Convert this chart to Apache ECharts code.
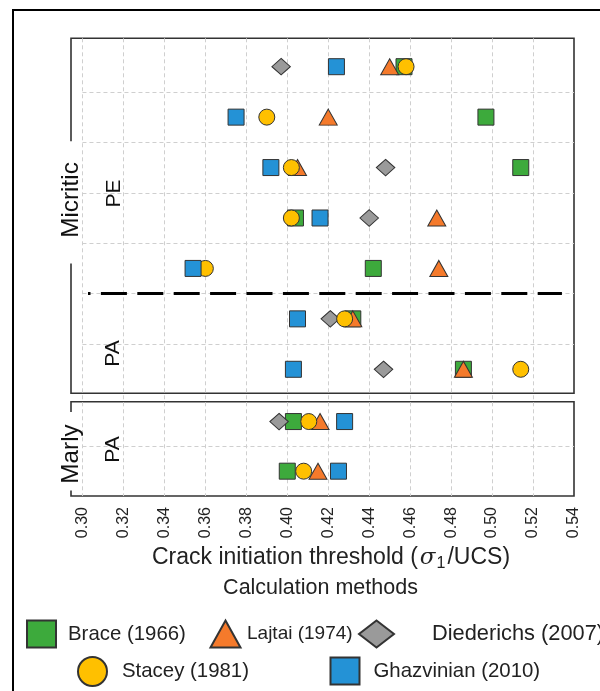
<!DOCTYPE html>
<html>
<head>
<meta charset="utf-8">
<script src="https://cdn.jsdelivr.net/npm/echarts@6/dist/echarts.min.js"></script>
<style>
html,body{margin:0;padding:0;background:#fff;}
#chart{width:600px;height:691px;}
</style>
</head>
<body>
<div id="chart"></div>
<script>
// ---- data ----
const methods = ['Brace (1966)', 'Lajtai (1974)', 'Diederichs (2007)', 'Stacey (1981)', 'Ghazvinian (2010)'];
const tickValues = ['0.30','0.32','0.34','0.36','0.38','0.40','0.42','0.44','0.46','0.48','0.50','0.52','0.54'];
// Micritic rows (top to bottom): rows 1-5 PE, rows 6-7 PA
const rowsMicritic = [1, 2, 3, 4, 5, 6, 7];
const braceMicritic      = [0.457, 0.497, 0.514, 0.404, 0.442, 0.432, 0.486];
const lajtaiMicritic     = [0.450, 0.420, 0.405, 0.473, 0.474, 0.432, 0.486];
const diederichsMicritic = [0.397, null,  0.448, 0.440, null,  0.421, 0.447];
const staceyMicritic     = [0.458, 0.390, 0.402, 0.402, 0.360, 0.428, 0.514];
const ghazvinianMicritic = [0.424, 0.375, 0.392, 0.416, 0.354, 0.405, 0.403];
// Marly rows (PA)
const rowsMarly = [1, 2];
const braceMarly      = [0.403, 0.400];
const lajtaiMarly     = [0.416, 0.415];
const diederichsMarly = [0.396, null];
const staceyMarly     = [0.4105, 0.408];
const ghazvinianMarly = [0.428, 0.425];

// ---- styles ----
const FONT = '"Liberation Sans", Arial, Helvetica, sans-serif';
const colors = ['#3daa3c', '#f57a2b', '#9a9a9a', '#ffc000', '#2492d6'];
const symbols = ['rect', 'triangle', 'diamond', 'circle', 'rect'];
const symSizes = [16, [18, 16], [18.5, 16.5], 16, 16];
const XMIN = 0.2944, XMAX = 0.54;

const microData = [braceMicritic, lajtaiMicritic, diederichsMicritic, staceyMicritic, ghazvinianMicritic];
const marlyData = [braceMarly, lajtaiMarly, diederichsMarly, staceyMarly, ghazvinianMarly];

function pairs(vals, rows) {
  const out = [];
  vals.forEach((v, i) => { if (v != null) out.push([v, rows[i]]); });
  return out;
}

const series = [];
methods.forEach((m, k) => {
  series.push({
    name: m, type: 'scatter', xAxisIndex: 1, yAxisIndex: 1,
    symbol: symbols[k], symbolSize: symSizes[k],
    itemStyle: { color: colors[k], borderColor: '#333', borderWidth: 1, opacity: 1 },
    emphasis: { disabled: true },
    data: pairs(microData[k], rowsMicritic), z: 3
  });
  series.push({
    name: m, type: 'scatter', xAxisIndex: 2, yAxisIndex: 2,
    symbol: symbols[k], symbolSize: symSizes[k],
    itemStyle: { color: colors[k], borderColor: '#333', borderWidth: 1, opacity: 1 },
    emphasis: { disabled: true },
    data: pairs(marlyData[k], rowsMarly), z: 3
  });
});

const gx0 = parseFloat(tickValues[0]), gx1 = parseFloat(tickValues[tickValues.length - 1]);
const gridStyle = { type: [4, 3], color: '#cfcfcf', width: 1 };
function rowLines(rows) {
  const d = [];
  for (let i = 0; i < rows.length - 1; i++) {
    const y = (rows[i] + rows[i + 1]) / 2;
    d.push([{ coord: [gx0, y] }, { coord: [gx1, y] }]);
  }
  return d;
}
// separator between PE (rows 1-5) and PA (rows 6-7)
const sepRow = 5.5;
series.push({
  name: '_g1', type: 'scatter', xAxisIndex: 1, yAxisIndex: 1, data: [], z: 1,
  markLine: { silent: true, symbol: 'none', z: 1, label: { show: false }, lineStyle: gridStyle,
    data: rowLines(rowsMicritic).concat([[
      { coord: [0.3027, sepRow], lineStyle: { type: [26, 10.4], dashOffset: 23.5, color: '#000', width: 3.2, cap: 'butt' } },
      { coord: [0.5341, sepRow] }
    ]]) }
});
series.push({
  name: '_g2', type: 'scatter', xAxisIndex: 2, yAxisIndex: 2, data: [], z: 1,
  markLine: { silent: true, symbol: 'none', z: 1, label: { show: false }, lineStyle: gridStyle,
    data: rowLines(rowsMarly) }
});

function legendItem(name, left, top, w, h, gap, fs) {
  return {
    data: [name], left: left, top: top, padding: 0, itemWidth: w, itemHeight: h,
    selectedMode: false,
    textStyle: { fontFamily: FONT, fontSize: fs, color: '#222', padding: [0, 0, 0, gap - 5] }
  };
}

const option = {
  animation: false,
  backgroundColor: '#fff',
  grid: [
    { left: 71, right: 26, top: 38.3, bottom: 195, show: false },
    { left: 71, right: 26, top: 38.3, bottom: 297.7, show: true, borderColor: '#333', borderWidth: 1.6, backgroundColor: 'transparent' },
    { left: 71, right: 26, top: 401.7, bottom: 195, show: true, borderColor: '#333', borderWidth: 1.6, backgroundColor: 'transparent' }
  ],
  xAxis: [
    { gridIndex: 0, type: 'value', min: XMIN, max: XMAX, splitNumber: 12, minInterval: 0.02, maxInterval: 0.02,
      axisLine: { show: false }, axisTick: { show: false },
      splitLine: { show: true, showMinLine: false, showMaxLine: false, lineStyle: gridStyle },
      axisLabel: { rotate: 90, margin: 11, fontFamily: FONT, fontSize: 16, color: '#222', showMinLabel: false,
        formatter: v => { const s = v.toFixed(2); return tickValues.indexOf(s) >= 0 ? s : ''; } } },
    { gridIndex: 1, type: 'value', min: XMIN, max: XMAX, show: false, splitLine: { show: false } },
    { gridIndex: 2, type: 'value', min: XMIN, max: XMAX, show: false, splitLine: { show: false } }
  ],
  yAxis: [
    { gridIndex: 0, type: 'value', min: 0, max: 1, show: false, splitLine: { show: false } },
    { gridIndex: 1, type: 'value', min: 0.437, max: 7.476, inverse: true, show: false, splitLine: { show: false } },
    { gridIndex: 2, type: 'value', min: 0.6, max: 2.5, inverse: true, show: false, splitLine: { show: false } }
  ],
  legend: [
    legendItem(methods[0], 26, 619.5, 29, 27, 12, 20.4),
    legendItem(methods[1], 209.5, 619.5, 30, 27, 6.5, 19),
    legendItem(methods[2], 358, 619.5, 35, 27, 38, 21.8),
    legendItem(methods[3], 77, 656, 29, 29, 15, 20.4),
    legendItem(methods[4], 329.5, 656.5, 29, 27, 14, 20.4)
  ],
  series: series,
  graphic: [
    { type: 'rect', z: 100, shape: { x: 13, y: 10, width: 800, height: 800 }, style: { fill: 'none', stroke: '#000', lineWidth: 2 } },
    { type: 'text', z: 100, x: 71.7, y: 202.35, rotation: Math.PI / 2,
      style: { text: 'Micritic', font: '24.3px ' + FONT, fill: '#111', align: 'center', verticalAlign: 'middle',
        backgroundColor: '#fff', padding: [0, 21, 0, 25.7], lineHeight: 16 } },
    { type: 'text', z: 100, x: 71.7, y: 451.2, rotation: Math.PI / 2,
      style: { text: 'Marly', font: '24.3px ' + FONT, fill: '#111', align: 'center', verticalAlign: 'middle',
        backgroundColor: '#fff', padding: [0, 12.3, 0, 6.7], lineHeight: 16 } },
    { type: 'text', z: 100, x: 114, y: 193.5, rotation: Math.PI / 2,
      style: { text: 'PE', font: '21px ' + FONT, fill: '#111', align: 'center', verticalAlign: 'middle' } },
    { type: 'text', z: 100, x: 113, y: 353.5, rotation: Math.PI / 2,
      style: { text: 'PA', font: '21px ' + FONT, fill: '#111', align: 'center', verticalAlign: 'middle' } },
    { type: 'text', z: 100, x: 113, y: 449.5, rotation: Math.PI / 2,
      style: { text: 'PA', font: '21px ' + FONT, fill: '#111', align: 'center', verticalAlign: 'middle' } },
    { type: 'text', z: 100, x: 331, y: 558,
      style: { text: '{a|Crack initiation threshold (}{s|σ}{b|1}{a|/UCS)}', align: 'center', verticalAlign: 'middle', fill: '#222',
        rich: {
          a: { fontFamily: FONT, fontSize: 23, color: '#222', lineHeight: 26 },
          s: { fontFamily: '"DejaVu Serif", "Liberation Serif", serif', fontStyle: 'italic', fontSize: 23, color: '#222', lineHeight: 26, padding: [0, 1, 0, 2] },
          b: { fontFamily: FONT, fontSize: 16, color: '#222', lineHeight: 26, padding: [12, 2, 0, 0] }
        } } },
    { type: 'text', z: 100, x: 320.5, y: 588,
      style: { text: 'Calculation methods', font: '21.5px ' + FONT, fill: '#222', align: 'center', verticalAlign: 'middle' } }
  ]
};

const chart = echarts.init(document.getElementById('chart'), null, { renderer: 'canvas' });
chart.setOption(option);
</script>
</body>
</html>
